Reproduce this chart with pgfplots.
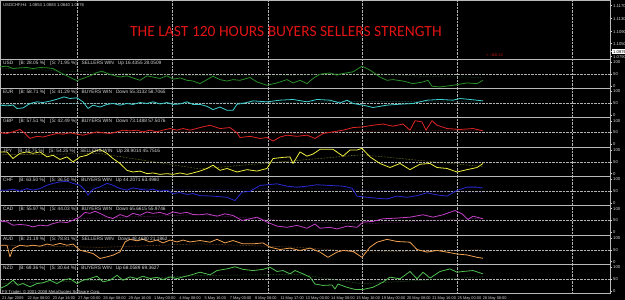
\documentclass[border=0pt]{standalone}
\usepackage{fontspec}
\setmainfont{Liberation Sans}
\newfontfamily\titlefont{Carlito}
\usepackage{pgfplots}
\pgfplotsset{compat=1.18}
\definecolor{cUSD}{RGB}{40,140,40}
\definecolor{cEUR}{RGB}{64,208,208}
\definecolor{cGBP}{RGB}{224,36,36}
\definecolor{cJPY}{RGB}{240,240,64}
\definecolor{cCHF}{RGB}{40,40,210}
\definecolor{cCAD}{RGB}{196,64,200}
\definecolor{cAUD}{RGB}{240,160,80}
\definecolor{cNZD}{RGB}{80,192,80}
\definecolor{txt}{RGB}{215,215,215}
\definecolor{sep}{RGB}{185,185,185}
\newcommand{\tinyf}{\fontsize{4.2}{5}\selectfont}
\newcommand{\panef}{\fontsize{4.8}{5.5}\selectfont}
\newcommand{\labf}{\fontsize{3.9}{4.5}\selectfont}
\pgfplotsset{
  base/.style={scale only axis, width=610pt, xmin=0, xmax=610, anchor=south west,
    axis background/.style={fill=black},
    axis line style={draw=sep, line width=0.9pt},
    xtick={77,172,268,362,457,572}, xticklabels={}, xmajorgrids,
    major grid style={densely dotted, white!70!black, line width=0.4pt},
    x tick style={draw=none},
    yticklabel pos=right,
    y tick style={txt, line width=0.4pt},
    tick align=outside, major tick length=2pt,
    yticklabel style={font=\tinyf, text=txt, inner sep=1pt},
    /pgf/number format/assume math mode=true,
    clip=true},
  pane/.style={base, height=29.3pt, ymin=-12, ymax=112, ytick={0,100},
    extra y ticks={50}, extra y tick style={grid=major}},
  sig/.style={line width=0.8pt, line join=round},
  ma/.style={densely dotted, line width=0.5pt},
}
\newcommand{\plab}[1]{\node[anchor=west, font=\panef, text=txt, inner sep=0pt] at (axis cs:3,96) {#1};}
\begin{document}
\begin{tikzpicture}
\fill[black] (0pt,0pt) rectangle (625pt,300pt);

% main window
\begin{axis}[base, at={(0pt,241pt)}, height=58.3pt, ymin=0, ymax=58.3,
  ytick={53.3,40.3,27.3,15.3,2.3}, yticklabels={1.1170,1.1130,1.1090,1.1050,1.0790},
  extra y ticks={7.3}, extra y tick labels={1.0876},
  extra y tick style={yticklabel style={fill=white, text=black}}]
\node[anchor=west, font=\tinyf, text=txt, inner sep=0pt] at (axis cs:3,53.8) {USDCHF,H4\ \ 1.0853 1.0883 1.0840 1.0876};
\node[anchor=west, font=\titlefont\fontsize{15.5}{16}\selectfont, text={rgb,255:red,225;green,20;blue,20}, inner sep=0pt] at (axis cs:130,27.3) {THE LAST 120 HOURS BUYERS SELLERS STRENGTH};
\node[anchor=west, font=\labf, text={rgb,255:red,200;green,20;blue,20}, inner sep=0pt] at (axis cs:486,4.3) {<-{}-116.24};
\end{axis}

% USD
\begin{axis}[pane, at={(0pt,211.4pt)}]
\addplot[ma, cUSD!70!black] coordinates {(2,75)(77,60)(172,45)(268,40)(362,55)(420,40)(483,35)};
\addplot[sig, cUSD] coordinates {(0,80)(7,83)(13,73)(20,76)(27,77)(33,73)(40,77)(47,76)(53,73)(60,56)(67,42)(72,31)(77,22)(83,31)(90,42)(97,56)(102,62)(107,52)(113,45)(120,37)(127,42)(133,33)(140,23)(147,42)(153,37)(160,31)(167,42)(173,28)(180,33)(187,23)(193,20)(200,9)(207,26)(213,40)(220,26)(227,20)(233,26)(240,23)(250,35)(257,16)(267,2)(277,12)(287,26)(293,12)(300,23)(307,9)(313,31)(320,49)(330,54)(337,45)(343,52)(353,59)(362,83)(370,66)(380,37)(387,23)(393,26)(403,20)(413,9)(423,16)(428,23)(432,-2)(440,-5)(453,2)(467,12)(477,9)(483,23)};
\plab{USD\hspace{6pt}[B: 28.05 \%]\hspace{5pt}[S: 71.95 \%]\hspace{5pt}SELLERS WIN\hspace{4pt}Up 16.4355 28.0509}
\end{axis}

% EUR
\begin{axis}[pane, at={(0pt,182.1pt)}]
\addplot[ma, cEUR!70!black] coordinates {(2,45)(100,50)(200,50)(300,55)(362,58)(483,55)};
\addplot[sig, cEUR] coordinates {(0,42)(7,39)(13,42)(17,28)(23,30)(30,49)(37,56)(43,53)(50,59)(57,67)(64,77)(70,70)(77,73)(83,56)(88,28)(93,42)(100,34)(107,45)(113,49)(120,42)(127,49)(133,45)(140,53)(147,49)(153,56)(160,47)(167,53)(173,45)(180,47)(187,56)(193,45)(200,45)(207,37)(213,23)(220,34)(227,20)(233,20)(237,46)(243,49)(253,60)(267,56)(280,63)(293,66)(307,56)(317,66)(330,63)(340,51)(347,63)(353,49)(363,42)(373,32)(387,42)(400,46)(413,49)(427,63)(440,66)(453,63)(460,70)(470,66)(483,60)};
\plab{EUR\hspace{6pt}[B: 58.71 \%]\hspace{5pt}[S: 41.29 \%]\hspace{5pt}BUYERS WIN\hspace{4pt}Down 55.3132 58.7065}
\end{axis}

% GBP
\begin{axis}[pane, at={(0pt,152.8pt)}]
\addplot[ma, cGBP!70!black] coordinates {(2,50)(100,47)(200,55)(300,45)(362,55)(483,60)};
\addplot[sig, cGBP] coordinates {(0,49)(7,46)(13,53)(20,63)(25,46)(30,25)(37,34)(43,31)(50,39)(57,46)(63,43)(70,49)(77,43)(83,39)(90,46)(97,53)(103,49)(110,46)(117,53)(123,60)(130,57)(137,60)(143,53)(150,60)(157,53)(163,60)(170,67)(177,60)(183,67)(190,60)(200,71)(210,81)(220,67)(230,71)(237,49)(240,29)(250,34)(260,25)(267,29)(273,14)(280,31)(287,39)(297,34)(307,39)(315,25)(323,46)(333,53)(343,60)(353,71)(363,74)(373,81)(383,86)(393,77)(403,86)(410,60)(415,100)(422,95)(426,60)(432,100)(437,81)(447,67)(460,63)(473,67)(483,57)};
\plab{GBP\hspace{6pt}[B: 57.51 \%]\hspace{5pt}[S: 42.49 \%]\hspace{5pt}BUYERS WIN\hspace{4pt}Down 73.1488 57.5076}
\end{axis}

% JPY
\begin{axis}[pane, at={(0pt,123.5pt)}]
\addplot[ma, cJPY!70!black] coordinates {(2,80)(100,85)(200,20)(362,80)(483,30)};
\addplot[sig, cJPY] coordinates {(0,92)(7,92)(13,64)(20,86)(27,92)(33,86)(40,92)(47,71)(53,78)(60,60)(67,71)(73,50)(80,71)(87,78)(93,92)(100,102)(107,86)(113,64)(120,43)(127,14)(133,7)(140,11)(147,0)(153,3)(160,-3)(167,0)(173,-3)(180,3)(187,-3)(193,3)(200,11)(207,22)(213,36)(220,14)(227,22)(237,7)(247,17)(257,11)(267,22)(273,64)(283,69)(290,71)(293,43)(300,92)(307,74)(313,83)(320,103)(333,103)(343,74)(350,100)(357,100)(362,107)(370,71)(380,43)(390,26)(400,43)(410,17)(420,40)(430,43)(437,26)(447,22)(457,7)(467,17)(477,26)(483,43)};
\plab{JPY\hspace{6pt}[B: 45.75 \%]\hspace{5pt}[S: 54.25 \%]\hspace{5pt}SELLERS WIN\hspace{4pt}Up 28.9014 45.7516}
\end{axis}

% CHF
\begin{axis}[pane, at={(0pt,94.2pt)}]
\addplot[ma, cCHF!70!black] coordinates {(2,55)(100,65)(200,55)(300,65)(362,55)(483,45)};
\addplot[sig, cCHF] coordinates {(0,54)(7,54)(13,58)(20,50)(27,61)(33,54)(40,61)(47,75)(53,83)(60,89)(67,92)(73,83)(80,75)(85,54)(88,33)(93,58)(100,68)(107,83)(113,75)(120,61)(127,54)(133,64)(140,58)(147,54)(153,58)(160,50)(167,54)(173,40)(180,44)(187,36)(193,40)(200,31)(213,29)(227,24)(235,10)(242,46)(250,49)(260,74)(267,77)(277,81)(287,71)(297,67)(307,71)(317,77)(330,74)(343,71)(352,63)(357,29)(367,24)(377,20)(387,17)(397,29)(407,24)(417,31)(427,43)(437,34)(447,29)(457,53)(467,67)(477,67)(483,63)};
\plab{CHF\hspace{6pt}[B: 63.50 \%]\hspace{5pt}[S: 36.50 \%]\hspace{5pt}BUYERS WIN\hspace{4pt}Up 44.2071 63.4980}
\end{axis}

% CAD
\begin{axis}[pane, at={(0pt,64.9pt)}]
\addplot[ma, cCAD!70!black] coordinates {(2,50)(100,60)(200,75)(300,45)(362,35)(483,60)};
\addplot[sig, cCAD] coordinates {(0,47)(7,44)(13,30)(20,33)(27,30)(33,23)(40,30)(47,27)(53,37)(60,44)(67,41)(73,51)(80,65)(85,84)(90,80)(95,89)(100,80)(107,65)(113,58)(120,75)(127,65)(133,80)(140,72)(147,86)(153,80)(160,84)(167,75)(173,86)(180,80)(187,84)(193,75)(200,74)(207,78)(217,68)(225,78)(233,71)(242,50)(250,57)(257,64)(267,43)(277,26)(287,21)(297,29)(307,17)(315,35)(320,17)(330,21)(337,14)(347,26)(357,21)(363,43)(373,46)(383,57)(397,60)(410,64)(423,74)(433,64)(443,74)(455,92)(462,78)(468,54)(473,68)(483,57)};
\plab{CAD\hspace{6pt}[B: 55.97 \%]\hspace{5pt}[S: 44.03 \%]\hspace{5pt}BUYERS WIN\hspace{4pt}Down 65.6615 55.9746}
\end{axis}

% AUD
\begin{axis}[pane, at={(0pt,35.6pt)}]
\addplot[ma, cAUD!70!black] coordinates {(2,70)(100,60)(200,75)(300,60)(362,40)(483,50)};
\addplot[sig, cAUD] coordinates {(0,69)(7,69)(10,20)(13,55)(20,69)(27,65)(33,69)(40,65)(47,74)(53,69)(60,77)(67,69)(73,74)(80,48)(87,41)(93,34)(100,13)(107,20)(113,27)(120,41)(125,83)(130,94)(137,88)(143,94)(150,83)(157,91)(163,79)(170,91)(177,83)(183,91)(190,83)(200,89)(210,82)(217,94)(225,79)(233,89)(243,75)(253,75)(263,79)(270,61)(280,51)(290,57)(300,47)(310,57)(320,40)(328,18)(337,40)(343,47)(353,43)(362,18)(370,61)(377,82)(387,94)(397,85)(410,82)(417,51)(427,40)(437,47)(447,40)(457,32)(467,28)(477,18)(483,14)};
\plab{AUD\hspace{6pt}[B: 21.19 \%]\hspace{5pt}[S: 78.81 \%]\hspace{5pt}SELLERS WIN\hspace{4pt}Down 48.4680 21.1862}
\end{axis}

% NZD
\begin{axis}[pane, at={(0pt,6.3pt)},
  extra x ticks={2,27.3,52.6,77.9,103.2,128.5,153.8,179.1,204.4,229.7,255,280.3,305.6,330.9,356.2,381.5,406.8,432.1,457.4,482.7},
  extra x tick labels={21 Apr 2009,22 Apr 08:00,23 Apr 16:00,27 Apr 00:00,28 Apr 08:00,29 Apr 16:00,1 May 00:00,4 May 08:00,5 May 16:00,7 May 00:00,8 May 08:00,11 May 17:00,13 May 00:00,14 May 08:00,15 May 16:00,19 May 00:00,20 May 08:00,21 May 16:00,25 May 00:00,26 May 08:00},
  extra x tick style={grid=none, xticklabel style={font=\labf, text=txt, anchor=north west, inner sep=0pt, yshift=-1.2pt}}]
\addplot[ma, cNZD!70!black] coordinates {(2,30)(100,45)(200,65)(300,70)(362,30)(483,60)};
\addplot[sig, cNZD] coordinates {(0,10)(7,24)(13,45)(18,24)(23,31)(30,17)(37,31)(43,34)(50,45)(57,31)(63,45)(70,52)(77,31)(83,45)(90,52)(97,62)(103,38)(110,45)(117,66)(123,45)(130,59)(137,52)(143,62)(150,52)(157,57)(163,48)(170,59)(177,52)(183,59)(190,66)(200,79)(210,68)(217,86)(227,93)(235,102)(243,91)(253,86)(263,91)(270,100)(277,82)(283,86)(290,72)(295,86)(303,72)(310,58)(315,29)(323,23)(332,25)(335,8)(338,29)(347,15)(355,6)(363,6)(373,15)(383,37)(390,58)(400,51)(410,82)(417,51)(423,79)(430,54)(440,82)(450,93)(457,79)(463,82)(473,86)(483,72)};
\plab{NZD\hspace{6pt}[B: 69.36 \%]\hspace{5pt}[S: 30.64 \%]\hspace{5pt}BUYERS WIN\hspace{4pt}Up 68.0589 69.3627}
\node[anchor=west, font=\tinyf, text=txt, inner sep=0pt] at (axis cs:2,-6) {FX Trader, \textcopyright\ 2001-2008 MetaQuotes Software Corp.};
\end{axis}
\pgfresetboundingbox
\useasboundingbox (0pt,0pt) rectangle (625pt,300pt);
\end{tikzpicture}
\end{document}
